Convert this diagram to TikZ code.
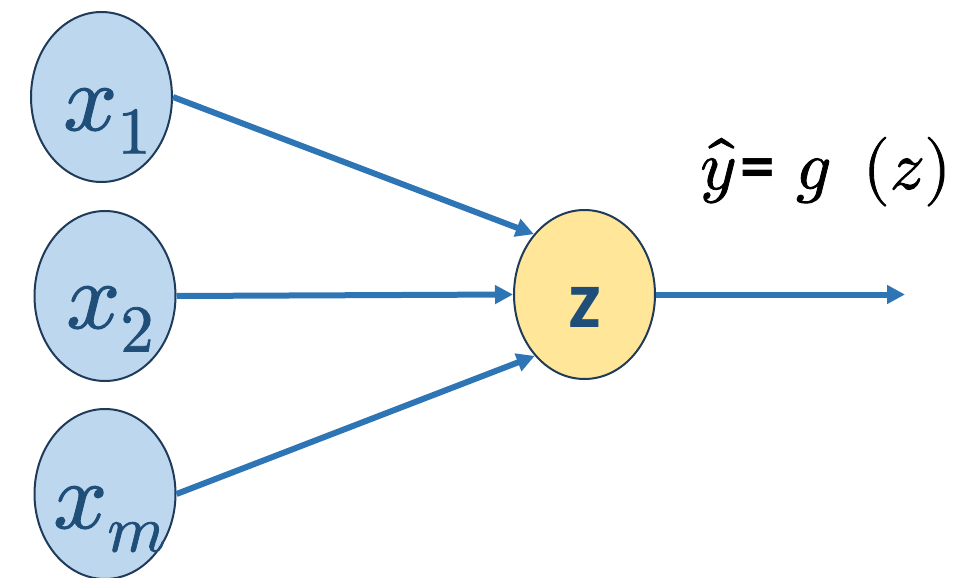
\documentclass[tikz,border=0pt]{standalone}
\usepackage{fontspec}
\usepackage{unicode-math}
\setmathfont{Latin Modern Math}[FakeBold=1.2]
\newfontfamily\carlito{Carlito}
\usetikzlibrary{shapes.geometric,arrows.meta,calc}
\definecolor{inpfill}{HTML}{BDD7EE}
\definecolor{sumfill}{HTML}{FFE699}
\definecolor{edgecol}{HTML}{203A5A}
\definecolor{txtcol}{HTML}{1F4E79}
\definecolor{arrcol}{HTML}{2E75B6}
\begin{document}
\begin{tikzpicture}[x=0.75pt,y=-0.75pt,
  inp/.style={ellipse,draw=edgecol,line width=1.5pt,fill=inpfill,
    minimum width=141*0.75pt,minimum height=170*0.75pt,inner sep=0pt},
  sumnode/.style={ellipse,draw=edgecol,line width=1.5pt,fill=sumfill,
    minimum width=141*0.75pt,minimum height=169*0.75pt,inner sep=0pt},
  inlbl/.style={anchor=base west,inner sep=0pt,text=txtcol,
    font=\fontsize{71}{73}\selectfont},
  sumlbl/.style={anchor=base,inner sep=0pt,text=txtcol,
    font=\carlito\bfseries\fontsize{62}{64}\selectfont},
  conn/.style={draw=arrcol,line width=4.5pt,
    -{Triangle[length=13.5pt,width=13.5pt]}},
  outlbl/.style={anchor=base west,inner sep=0pt,text=black,
    font=\fontsize{52}{56}\selectfont}
]
\useasboundingbox (0,0) rectangle (958,578);
\node[inp] (x1) at (101.5,97) {};
\node[inp] (x2) at (105,296) {};
\node[inp] (xm) at (105,494) {};
\node[sumnode] (z) at (584.5,294.5) {};
\node[inlbl] (t1) at (63,130) {$x_1$};
\node[inlbl] (t2) at (66,328) {$x_2$};
\node[inlbl] (tm) at (53,528) {$x_m$};
\node[sumlbl] (tz) at (584.5,327) {z};
\coordinate (out) at (905,294.5);
\draw[conn] (x1.east) -- (z.130);
\draw[conn] (x2.east) -- (z.west);
\draw[conn] (xm.east) -- (z.231);
\draw[conn] (z.east) -- (out);
\node[outlbl] (yhat) at (700,189) {$\hat{y}$\hspace{3pt}{\carlito\bfseries=}\hspace{16pt}$g$\hspace{24pt}$(z)$};
\end{tikzpicture}
\end{document}
